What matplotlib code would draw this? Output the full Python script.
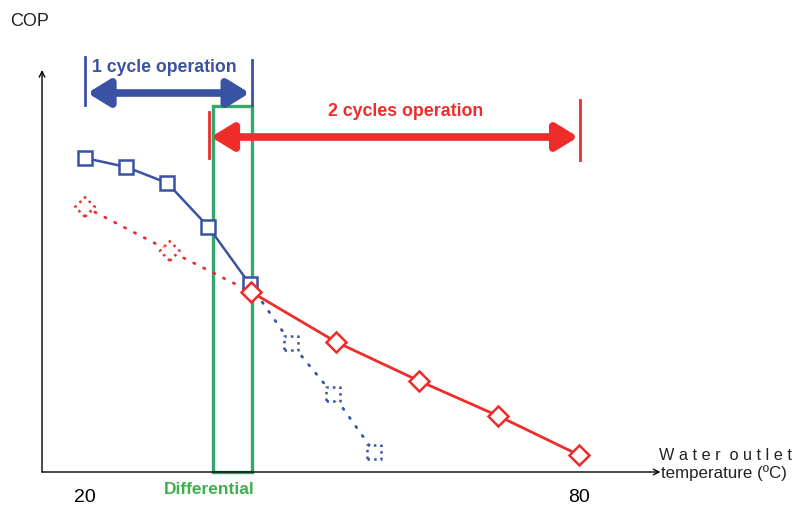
import matplotlib.pyplot as plt

plt.rcParams['font.family'] = ['Liberation Sans', 'DejaVu Sans']

blue = "#3a52a3"
red = "#ee2d2a"
green = "#35a66e"

# 1 cycle operation (solid) and its extension (dotted)
one_x = [20, 25, 30, 35, 40]
one_y = [6.28, 6.10, 5.78, 4.90, 3.76]
one_ext_x = [40, 45, 50.1, 55.1]
one_ext_y = [3.76, 2.58, 1.56, 0.40]

# 2 cycles operation (solid) and its extension (dotted)
two_x = [40.2, 50.5, 60.6, 70.2, 80]
two_y = [3.60, 2.60, 1.82, 1.12, 0.34]
two_ext_x = [20, 30.3, 40.2]
two_ext_y = [5.30, 4.42, 3.60]

tick_vals = [20, 80]
diff_lo, diff_hi = 35.55, 40.3

fig = plt.figure(figsize=(7.98, 5.14), dpi=100)
ax = fig.add_axes([0, 0, 1, 1])
ax.set_xlim(9.676, 106.6)
ax.set_ylim(-0.84, 9.44)
ax.axis('off')

# axes with arrow heads
ax.annotate("", xy=(14.78, 8.04), xytext=(14.78, 0),
            arrowprops=dict(arrowstyle="->", color="black", lw=1, shrinkA=0, shrinkB=0))
ax.annotate("", xy=(89.9, 0), xytext=(14.78, 0),
            arrowprops=dict(arrowstyle="->", color="black", lw=1, shrinkA=0, shrinkB=0))
ax.text(9.676 + 10 / 8.233, 9.0, "COP", fontsize=13, color="#222222", va="center")
ax.text(89.7, 0.34, "W a t e r  o u t l e t", fontsize=11.7, color="#222222", va="center")
ax.text(89.9, -0.02, "temperature (ºC)", fontsize=12.2, color="#222222", va="center")
for t in tick_vals:
    ax.text(t, -0.52, str(t), fontsize=14, ha="center", va="center")

# differential box
ax.add_patch(plt.Rectangle((diff_lo, 0), diff_hi - diff_lo, 7.32, fill=False,
                           edgecolor=green, lw=2.4, zorder=2))
ax.text(35.1, -0.34, "Differential", fontsize=12.5, color="#3db04b",
        fontweight="bold", ha="center", va="center")

# curves
ax.plot(two_ext_x, two_ext_y, color=red, lw=2, linestyle=(0, (0.5, 3.5)),
        dash_capstyle="round", zorder=3)
ax.plot(one_ext_x, one_ext_y, color=blue, lw=2, linestyle=(0, (0.5, 3.5)),
        dash_capstyle="round", zorder=3)
ax.scatter(two_ext_x[:-1], two_ext_y[:-1], marker="D", s=100, facecolors="white",
           edgecolors=red, linewidths=1.8, linestyles=":", zorder=4)
ax.scatter(one_ext_x[1:], one_ext_y[1:], marker="s", s=110, facecolors="white",
           edgecolors=blue, linewidths=1.8, linestyles=":", zorder=4)
ax.plot(one_x, one_y, color=blue, lw=1.8, marker="s", markersize=10,
        markerfacecolor="white", markeredgewidth=1.8, zorder=5)
ax.plot(two_x, two_y, color=red, lw=2, marker="D", markersize=10.5,
        markerfacecolor="white", markeredgewidth=1.8, zorder=6)

# 1 cycle operation range
ax.plot([20, 20], [7.34, 8.3], color=blue, lw=2)
ax.plot([40.3, 40.3], [7.34, 8.24], color=blue, lw=2)
ax.annotate("", xy=(40.0, 7.58), xytext=(20.3, 7.58),
            arrowprops=dict(arrowstyle="<|-|>,head_length=1.3,head_width=0.8",
                            color=blue, lw=5.5, shrinkA=0, shrinkB=0))
ax.text(20.8, 8.08, "1 cycle operation", fontsize=12.7, fontweight="bold", color=blue,
        va="center")

# 2 cycles operation range
ax.plot([35.1, 35.1], [6.28, 7.2], color=red, lw=2)
ax.plot([80.1, 80.1], [6.24, 7.44], color=red, lw=2)
ax.annotate("", xy=(79.9, 6.7), xytext=(35.3, 6.7),
            arrowprops=dict(arrowstyle="<|-|>,head_length=1.3,head_width=0.8",
                            color=red, lw=5.5, shrinkA=0, shrinkB=0))
ax.text(59.0, 7.2, "2 cycles operation", fontsize=12.8, fontweight="bold", color=red,
        ha="center", va="center")

fig.savefig("out.png", dpi=100)
